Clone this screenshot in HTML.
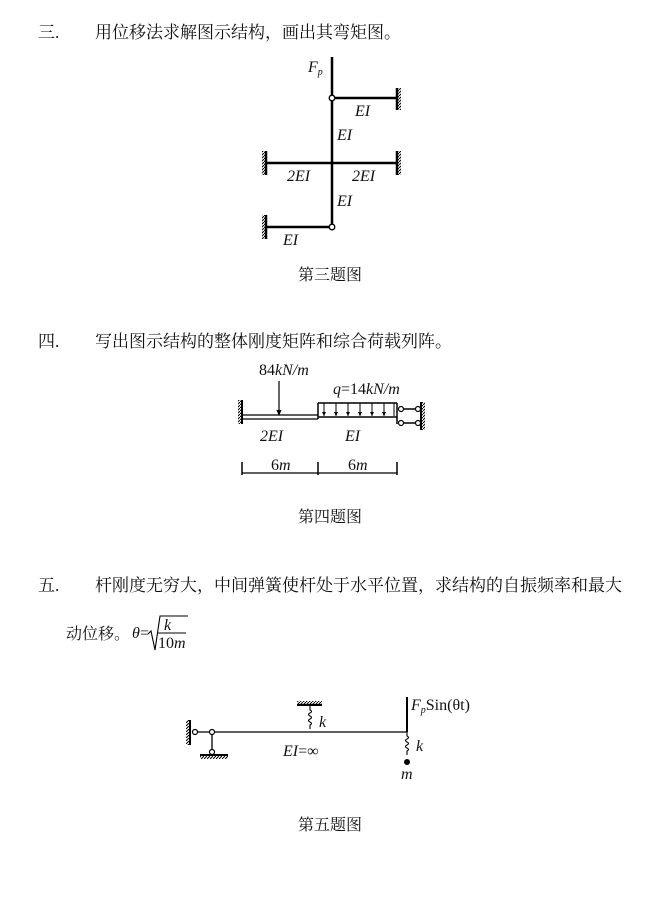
<!DOCTYPE html>
<html><head><meta charset="utf-8"><style>
body{margin:0;background:#fff;width:650px;height:907px;overflow:hidden}
svg{display:block}
.t{font-family:"Liberation Serif","Noto Serif CJK SC",serif;font-size:16px;fill:#111}
.q{font-family:"Liberation Serif","Noto Serif CJK SC",serif;font-size:17px;fill:#111}
.i{font-family:"Liberation Serif",serif;font-style:italic;font-size:16px;fill:#111}
</style></head><body>
<svg width="650" height="907" viewBox="0 0 650 907" xmlns="http://www.w3.org/2000/svg">
<defs>
<pattern id="h" width="3" height="3" patternUnits="userSpaceOnUse"><path d="M0 3L3 0" stroke="#000" stroke-width="1"/></pattern>
</defs>
<g stroke="#000" fill="none">
<line x1="332" y1="57" x2="332" y2="227" stroke-width="2.5"/>
<line x1="332" y1="98" x2="397" y2="98" stroke-width="2.5"/>
<line x1="266" y1="163" x2="397" y2="163" stroke-width="2.5"/>
<line x1="266" y1="227" x2="332" y2="227" stroke-width="2.5"/>
<line x1="397" y1="88" x2="397" y2="110" stroke-width="2.5"/>
<line x1="397" y1="151" x2="397" y2="175" stroke-width="2.5"/>
<line x1="266" y1="151" x2="266" y2="175" stroke-width="2.5"/>
<line x1="266" y1="215" x2="266" y2="239" stroke-width="2.5"/>
<rect x="398" y="88" width="3" height="22" fill="url(#h)" stroke="none"/>
<rect x="398" y="151" width="3" height="24" fill="url(#h)" stroke="none"/>
<rect x="262" y="151" width="3" height="24" fill="url(#h)" stroke="none"/>
<rect x="262" y="215" width="3" height="24" fill="url(#h)" stroke="none"/>
<circle cx="332" cy="98" r="2.8" fill="#fff" stroke-width="1.3"/>
<circle cx="332" cy="227" r="2.8" fill="#fff" stroke-width="1.3"/>
<line x1="242" y1="400" x2="242" y2="424" stroke-width="2"/>
<rect x="238" y="400" width="3" height="24" fill="url(#h)" stroke="none"/>
<line x1="242" y1="415" x2="318" y2="415" stroke-width="1.2"/>
<line x1="242" y1="419" x2="318" y2="419" stroke-width="1.2"/>
<line x1="318" y1="403" x2="318" y2="419" stroke-width="1.5"/>
<line x1="318" y1="403" x2="397" y2="403" stroke-width="1.5"/>
<line x1="318" y1="417" x2="397" y2="417" stroke-width="1.5"/>
<line x1="397" y1="403" x2="397" y2="424" stroke-width="1.5"/>
<g stroke-width="1">
<line x1="324" y1="403" x2="324" y2="416"/><line x1="336" y1="403" x2="336" y2="416"/><line x1="348" y1="403" x2="348" y2="416"/><line x1="360" y1="403" x2="360" y2="416"/><line x1="372" y1="403" x2="372" y2="416"/><line x1="384" y1="403" x2="384" y2="416"/><line x1="394" y1="403" x2="394" y2="416"/>
</g>
<g fill="#000" stroke="none">
<path d="M322 412h4l-2 4z"/><path d="M334 412h4l-2 4z"/><path d="M346 412h4l-2 4z"/><path d="M358 412h4l-2 4z"/><path d="M370 412h4l-2 4z"/><path d="M382 412h4l-2 4z"/>
<path d="M276.5 410h5l-2.5 6z"/>
</g>
<line x1="279" y1="381" x2="279" y2="412" stroke-width="1.2"/>
<line x1="399" y1="409" x2="420" y2="409" stroke-width="1.5"/>
<line x1="399" y1="423" x2="420" y2="423" stroke-width="1.5"/>
<circle cx="401" cy="409" r="2.5" fill="#fff" stroke-width="1.2"/>
<circle cx="401" cy="423" r="2.5" fill="#fff" stroke-width="1.2"/>
<circle cx="418" cy="409" r="2.5" fill="#fff" stroke-width="1.2"/>
<circle cx="418" cy="423" r="2.5" fill="#fff" stroke-width="1.2"/>
<line x1="421" y1="402" x2="421" y2="430" stroke-width="2"/>
<rect x="422" y="402" width="3" height="28" fill="url(#h)" stroke="none"/>
<line x1="242" y1="473" x2="397" y2="473" stroke-width="1.2"/>
<line x1="242" y1="462" x2="242" y2="475" stroke-width="1.5"/>
<line x1="318" y1="462" x2="318" y2="475" stroke-width="1.5"/>
<line x1="397" y1="462" x2="397" y2="475" stroke-width="1.5"/>
<line x1="196" y1="732" x2="407" y2="732" stroke-width="1.3"/>
<line x1="190" y1="720" x2="190" y2="745" stroke-width="2"/>
<rect x="186" y="720" width="3" height="25" fill="url(#h)" stroke="none"/>
<circle cx="195" cy="732" r="2.5" fill="#fff" stroke-width="1.2"/>
<line x1="212" y1="732" x2="212" y2="752" stroke-width="1.3"/>
<circle cx="212" cy="732" r="2.5" fill="#fff" stroke-width="1.2"/>
<circle cx="212" cy="752" r="2.5" fill="#fff" stroke-width="1.2"/>
<line x1="200" y1="755" x2="228" y2="755" stroke-width="2"/>
<rect x="200" y="756" width="28" height="3" fill="url(#h)" stroke="none"/>
<line x1="297" y1="705" x2="322" y2="705" stroke-width="2"/>
<rect x="297" y="701" width="25" height="3" fill="url(#h)" stroke="none"/>
<path d="M310 705v5 q3 1.5 0 3 q-3 1.5 0 3 q3 1.5 0 3 q-3 1.5 0 3 q3 1.5 0 3 v4" stroke-width="1.1"/>
<line x1="407" y1="697" x2="407" y2="732" stroke-width="2"/>
<path d="M407 732v4 q3 1.5 0 3 q-3 1.5 0 3 q3 1.5 0 3 q-3 1.5 0 3 q3 1.5 0 3 v4" stroke-width="1.1"/>
<circle cx="407" cy="762" r="3" fill="#000" stroke="none"/>
</g>
<text class="q" x="38" y="38">三.</text>
<text class="q" x="95" y="38">用位移法求解图示结构，画出其弯矩图。</text>
<text class="i" x="308" y="72">F<tspan font-size="10" dy="3">p</tspan></text>
<text class="i" x="355" y="116">EI</text>
<text class="i" x="337" y="140">EI</text>
<text class="i" x="287" y="181">2EI</text>
<text class="i" x="352" y="181">2EI</text>
<text class="i" x="337" y="206">EI</text>
<text class="i" x="283" y="245">EI</text>
<text class="t" x="298" y="280">第三题图</text>
<text class="q" x="38" y="347">四.</text>
<text class="q" x="95" y="347">写出图示结构的整体刚度矩阵和综合荷载列阵。</text>
<text class="t" x="259" y="375" font-size="18">84<tspan font-style="italic">kN/m</tspan></text>
<text class="t" x="333" y="394" font-size="12"><tspan font-style="italic">q</tspan>=14<tspan font-style="italic">kN/m</tspan></text>
<text class="i" x="260" y="441">2EI</text>
<text class="i" x="345" y="441">EI</text>
<text class="t" x="271" y="470" font-size="12">6<tspan font-style="italic">m</tspan></text>
<text class="t" x="348" y="470" font-size="12">6<tspan font-style="italic">m</tspan></text>
<text class="t" x="298" y="522">第四题图</text>
<text class="q" x="38" y="591">五.</text>
<text class="q" x="95" y="591">杆刚度无穷大，中间弹簧使杆处于水平位置，求结构的自振频率和最大</text>
<text class="t" x="66" y="639">动位移。</text>
<text class="i" x="132" y="638">θ</text><text class="t" x="140" y="638">=</text>
<path d="M148 634l3-3 4 19 5-34h28" stroke="#000" fill="none" stroke-width="1.1"/>
<text class="i" x="164" y="630" font-size="13">k</text>
<line x1="158" y1="633" x2="186" y2="633" stroke="#000" stroke-width="1"/>
<text class="t" x="158" y="648" font-size="13">10<tspan font-style="italic">m</tspan></text>
<text class="t" x="411" y="710" font-size="16"><tspan font-style="italic">F</tspan><tspan font-style="italic" font-size="10" dy="3">p</tspan><tspan dy="-3">Sin(θt)</tspan></text>
<text class="i" x="319" y="727">k</text>
<text class="i" x="416" y="751">k</text>
<text class="i" x="283" y="756" font-size="17">EI<tspan font-style="normal">=∞</tspan></text>
<text class="i" x="401" y="779">m</text>
<text class="t" x="298" y="830">第五题图</text>
</svg>
</body></html>
